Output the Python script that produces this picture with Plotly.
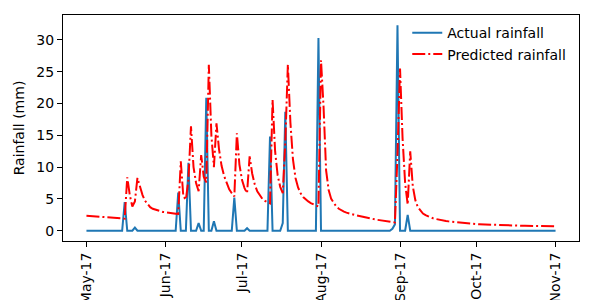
import pandas as pd
import plotly.graph_objects as go

# daily dates, 1 May 2017 .. 1 Nov 2017
dates = pd.date_range("2017-05-01", "2017-11-01", freq="D")

actual = [
    0, 0, 0, 0, 0, 0, 0, 0, 0, 0,
    0, 0, 0, 0, 0, 4.5, 0, 0, 0, 0.5,
    0, 0, 0, 0, 0, 0, 0, 0, 0, 0,
    0, 0, 0, 0, 0, 0, 6.0, 0, 0, 0,
    10.7, 0, 0, 0, 1.2, 0, 0, 20.9, 0, 0,
    1.5, 0, 0, 0, 0, 0, 0, 0, 5.2, 0,
    0, 0, 0, 0.4, 0, 0, 0, 0, 0, 0,
    0, 0, 14.8, 0, 0, 0, 0, 1.2, 18.7, 0,
    0, 0, 0, 0, 0, 0, 0, 0, 0, 0,
    0, 30.3, 0, 0, 0, 0, 0, 0, 0, 0,
    0, 0, 0, 0, 0, 0, 0, 0, 0, 0,
    0, 0, 0, 0, 0, 0, 0, 0, 0, 0,
    0.3, 1.0, 32.3, 0, 0, 0, 2.5, 0, 0, 0,
    0, 0, 0, 0, 0, 0, 0, 0, 0, 0,
    0, 0, 0, 0, 0, 0, 0, 0, 0, 0,
    0, 0, 0, 0, 0, 0, 0, 0, 0, 0,
    0, 0, 0, 0, 0, 0, 0, 0, 0, 0,
    0, 0, 0, 0, 0, 0, 0, 0, 0, 0,
    0, 0, 0, 0, 0,
]

predicted = [
    2.35, 2.32, 2.29, 2.26, 2.23, 2.2, 2.17, 2.14, 2.11, 2.08,
    2.05, 2.02, 1.99, 1.96, 1.93, 1.9, 8.4, 5.6, 3.8, 4.6,
    8.3, 6.8, 5.6, 4.7, 4.1, 3.7, 3.45, 3.3, 3.15, 3.05,
    2.95, 2.9, 2.82, 2.77, 2.72, 2.68, 2.65, 10.9, 5.4, 4.9,
    8.0, 16.4, 10.0, 7.5, 6.2, 11.9, 8.5, 7.6, 26.1, 15.0,
    10.0, 16.9, 12.8, 10.2, 8.6, 7.4, 6.5, 5.9, 5.4, 15.3,
    10.4, 8.0, 6.7, 5.9, 11.7, 9.0, 7.3, 6.2, 5.5, 5.0,
    4.7, 4.45, 4.3, 20.6, 12.5, 8.7, 6.9, 5.9, 14.0, 26.1,
    17.0, 11.2, 8.3, 6.8, 5.9, 5.3, 4.9, 4.6, 4.35, 4.15,
    4.0, 3.8, 26.8, 19.5, 9.5, 6.4, 5.0, 4.3, 3.8, 3.45,
    3.2, 3.0, 2.85, 2.7, 2.6, 2.5, 2.4, 2.3, 2.2, 2.1,
    2.0, 1.95, 1.88, 1.8, 1.72, 1.65, 1.58, 1.52, 1.46, 1.4,
    1.35, 1.3, 12.0, 25.5, 14.5, 7.5, 4.1, 12.5, 7.0, 4.8,
    3.7, 3.1, 2.7, 2.45, 2.25, 2.1, 1.95, 1.85, 1.75, 1.67,
    1.6, 1.53, 1.47, 1.42, 1.37, 1.33, 1.29, 1.25, 1.22, 1.19,
    1.13, 1.1, 1.07, 1.04, 1.02, 1.0, 0.98, 0.96, 0.94, 0.92,
    0.9, 0.89, 0.88, 0.86, 0.85, 0.84, 0.83, 0.82, 0.81, 0.8,
    0.79, 0.78, 0.78, 0.77, 0.76, 0.76, 0.75, 0.75, 0.74, 0.74,
    0.73, 0.73, 0.72, 0.72, 0.71,
]

month_ticks = pd.date_range("2017-05-01", "2017-11-01", freq="MS")
y_ticks = [0, 5, 10, 15, 20, 25, 30]

fig = go.Figure()
fig.add_trace(go.Scatter(x=dates, y=actual, mode="lines", name="Actual rainfall",
                         line=dict(color="#1f77b4", width=2)))
fig.add_trace(go.Scatter(x=dates, y=predicted, mode="lines", name="Predicted rainfall",
                         line=dict(color="red", width=2, dash="13px,3px,2px,3px")))

# matplotlib-like 5% margins
pad = (dates[-1] - dates[0]) * 0.05
ymax = max(max(actual), max(predicted))
ypad = ymax * 0.05

font = dict(family="DejaVu Sans", size=14, color="black")
axis_style = dict(showline=True, linecolor="black", linewidth=1, mirror=True,
                  ticks="outside", ticklen=5, tickcolor="black", showgrid=False,
                  zeroline=False, tickfont=font)

fig.update_layout(
    width=600, height=300,
    margin=dict(l=63, r=21, t=15, b=59),
    plot_bgcolor="white", paper_bgcolor="white",
    font=font,
    showlegend=True,
    legend=dict(x=0.985, xanchor="right", y=0.99, yanchor="top",
                bgcolor="rgba(0,0,0,0)", font=font, tracegroupgap=0),
    xaxis=dict(range=[dates[0] - pad, dates[-1] + pad], tickvals=month_ticks,
               ticktext=[d.strftime("%b-%y") for d in month_ticks],
               tickangle=-90, automargin=False, **axis_style),
    yaxis=dict(range=[-ypad, ymax + ypad], tickvals=y_ticks,
               title=dict(text="Rainfall (mm)", font=font, standoff=8),
               automargin=False, **axis_style),
)

# drop the default page margin so the figure sits at the window's corner
fig.write_html("out.html", config={"displayModeBar": False},
               post_script="document.body.style.margin='0';")
